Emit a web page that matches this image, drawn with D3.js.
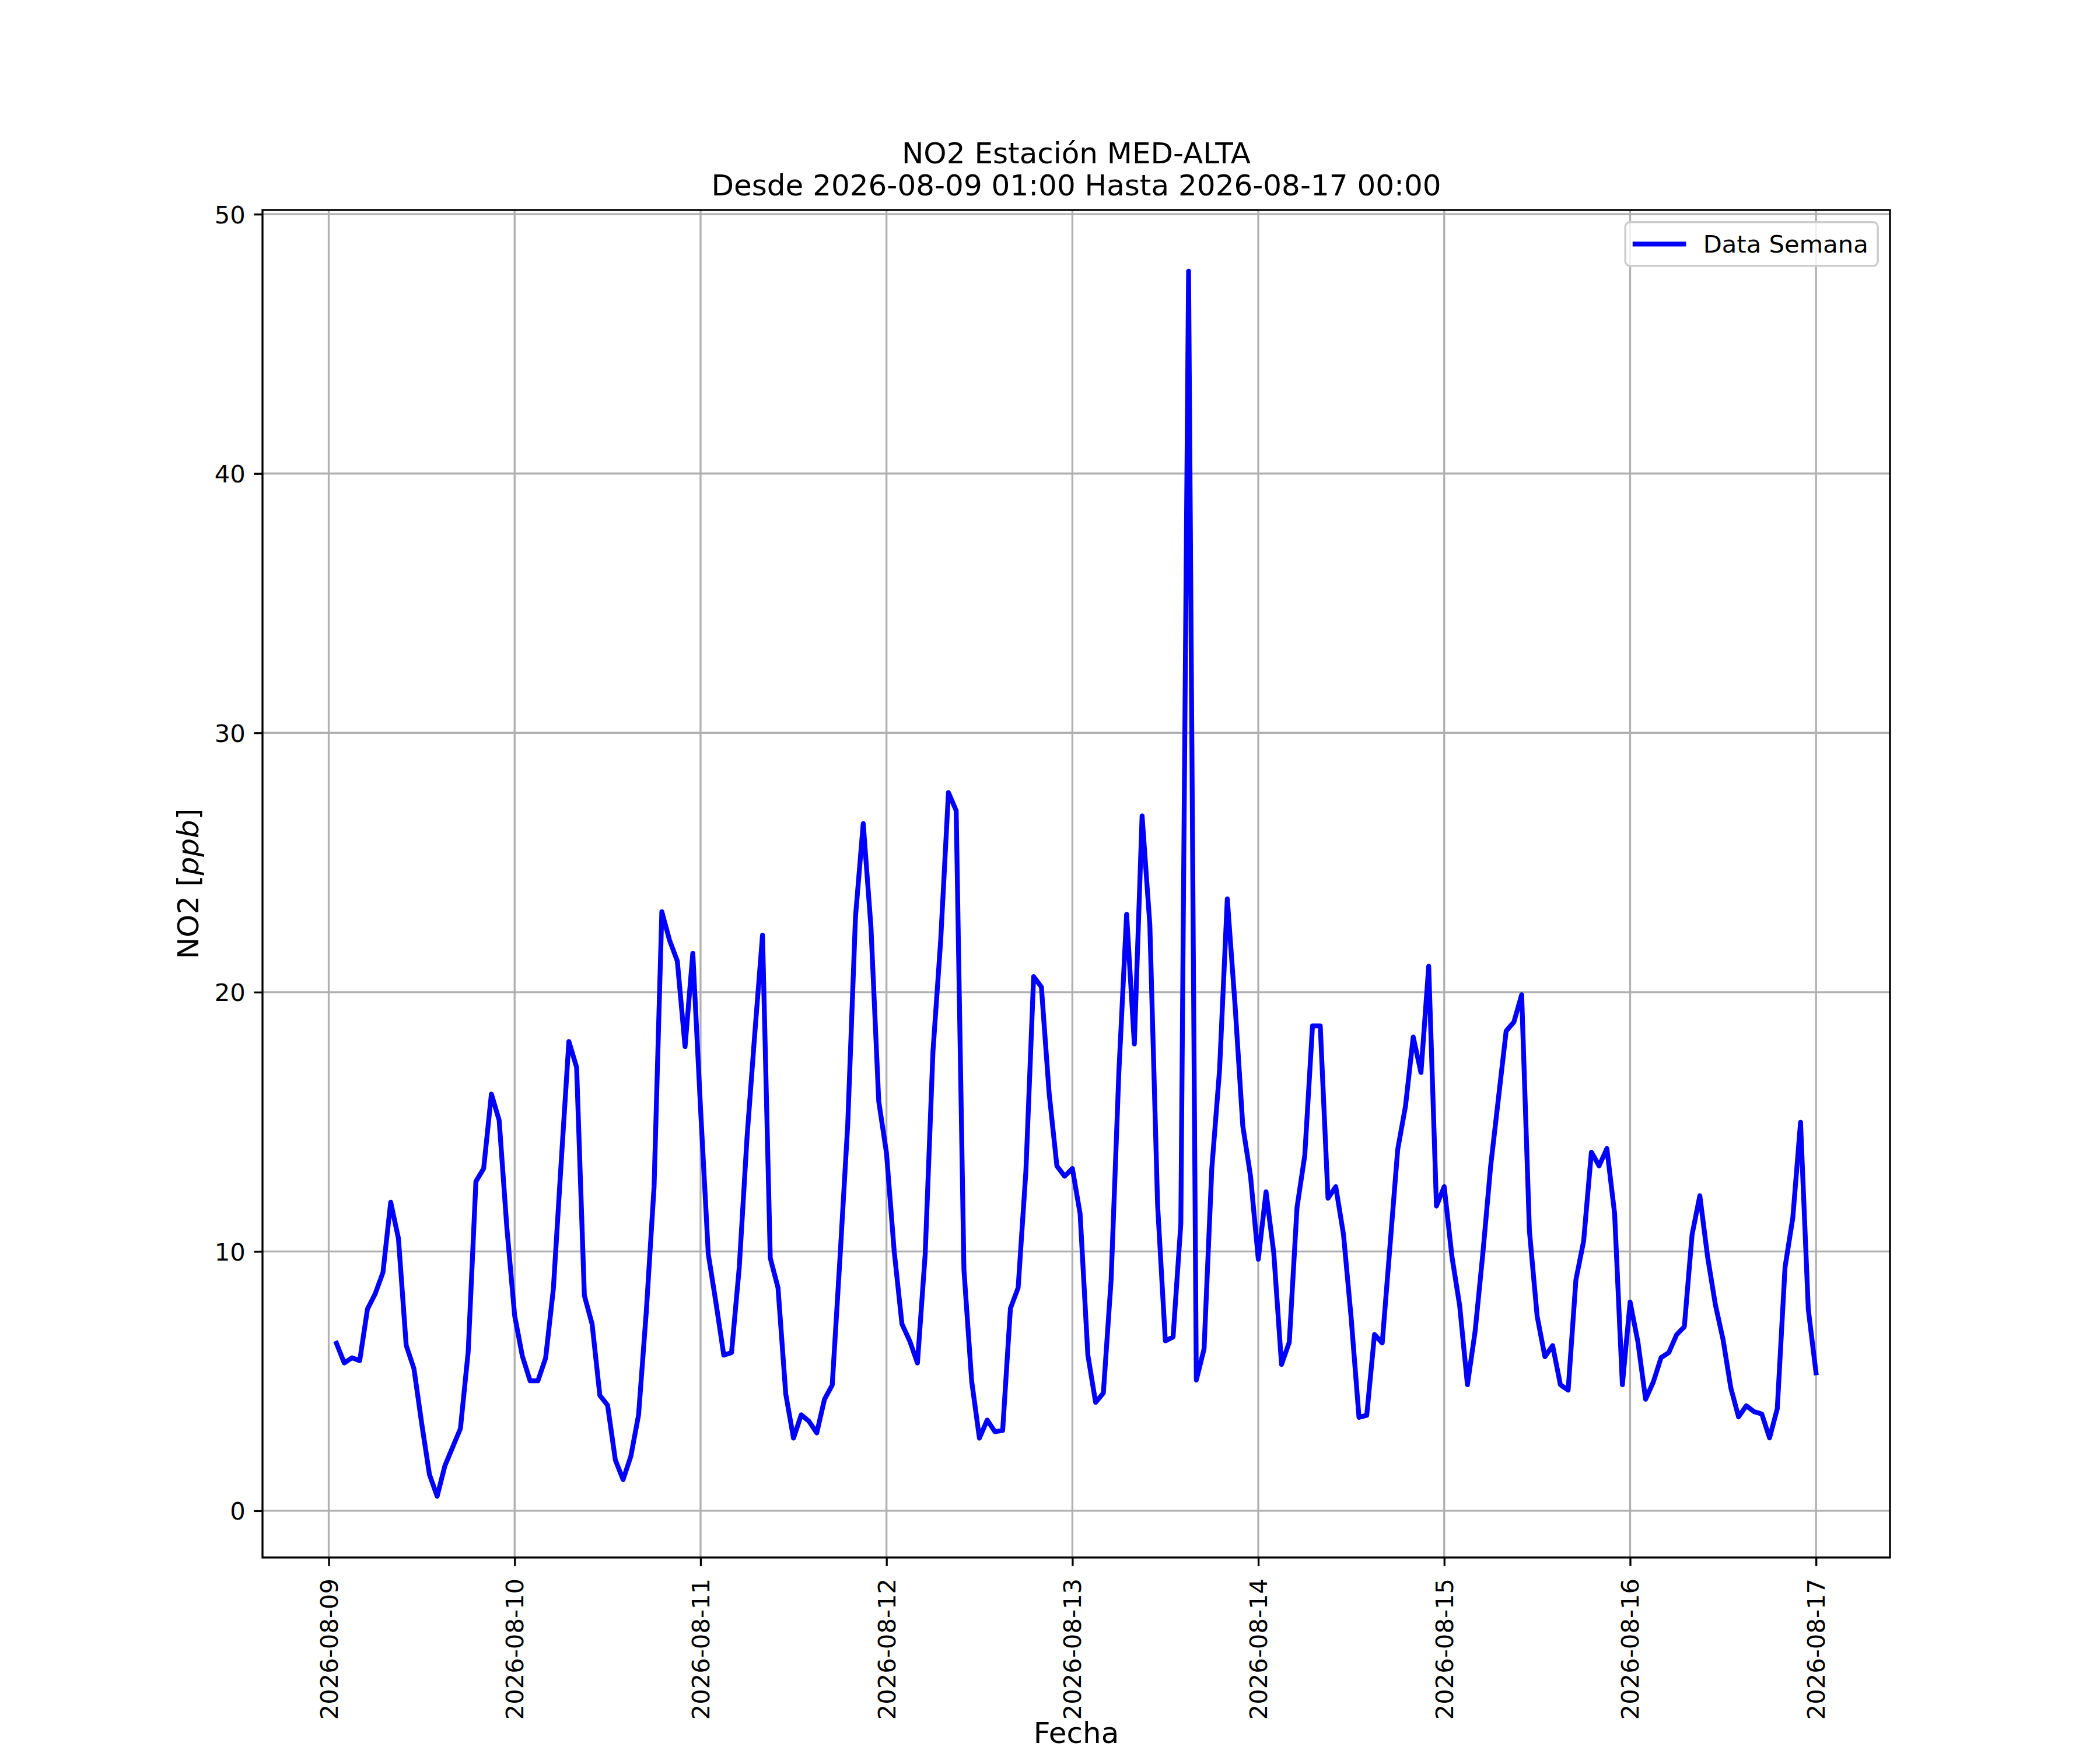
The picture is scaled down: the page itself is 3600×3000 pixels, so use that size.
<!DOCTYPE html>
<html>
<head>
<meta charset="utf-8">
<script src="https://cdn.jsdelivr.net/npm/d3@7"></script>
<style>
	html, body { margin: 0; padding: 0; background: #fff; }
	svg { display: block; font-family: 'DejaVu Sans', sans-serif; }
</style>
</head>
<body>
<div id="chart"></div>
<script>
// hourly NO2 readings, first one is 2026-08-09 01:00
const startHour = '2026-08-09T01:00:00Z'
const no2 = [
	6.46, 5.7, 5.9, 5.79, 7.78, 8.37, 9.19, 11.9, 10.5, 6.38, 5.48, 3.37, 1.4, 0.56, 1.74, 2.45, 3.17, 6.12, 12.7, 13.2, 16.07, 15.06, 10.9, 7.53,
	5.96, 5.01, 5.01, 5.89, 8.56, 13.4, 18.1, 17.1, 8.3, 7.2, 4.45, 4.07, 1.96, 1.2, 2.1, 3.7, 7.7, 12.5, 23.1, 22.0, 21.2, 17.9, 21.5, 15.5,
	9.9, 8.0, 6.0, 6.1, 9.4, 14.4, 18.4, 22.2, 9.75, 8.6, 4.5, 2.8, 3.7, 3.45, 3.0, 4.3, 4.85, 9.75, 14.9, 22.9, 26.5, 22.5, 15.8, 13.8,
	10.0, 7.2, 6.55, 5.7, 9.9, 17.7, 22.0, 27.7, 27.0, 9.3, 5.0, 2.8, 3.5, 3.05, 3.1, 7.8, 8.6, 13.1, 20.6, 20.2, 16.1, 13.3, 12.9, 13.2,
	11.45, 6.0, 4.18, 4.54, 8.9, 16.9, 23.0, 18.0, 26.8, 22.6, 11.8, 6.55, 6.7, 11.07, 47.8, 5.04, 6.24, 13.2, 17.0, 23.6, 19.5, 14.84, 12.9, 9.7,
	12.3, 9.94, 5.64, 6.5, 11.7, 13.7, 18.7, 18.7, 12.05, 12.5, 10.65, 7.4, 3.6, 3.68, 6.8, 6.47, 10.2, 13.94, 15.6, 18.27, 16.9, 21.0, 11.75, 12.5,
	9.8, 7.9, 4.86, 6.94, 9.96, 13.3, 15.9, 18.5, 18.85, 19.9, 10.8, 7.5, 5.94, 6.37, 4.86, 4.65, 8.9, 10.4, 13.83, 13.3, 13.97, 11.46, 4.86, 8.05,
	6.52, 4.3, 4.97, 5.91, 6.1, 6.79, 7.1, 10.65, 12.15, 9.8, 7.96, 6.6, 4.74, 3.62, 4.05, 3.82, 3.73, 2.81, 3.94, 9.39, 11.29, 14.98, 7.78, 5.32
]
const yTicks = [0, 10, 20, 30, 40, 50]
const titleLines = ['NO2 Estación MED-ALTA', 'Desde 2026-08-09 01:00 Hasta 2026-08-17 00:00']
const seriesName = 'Data Semana'

const attrs = {
	width: 3600,
	height: 3000,
	margin: { top: 360, right: 360, bottom: 330, left: 450 },
	lineColor: '#0000ff',
	lineWidth: 8.3,
	gridColor: '#b0b0b0',
	fontFamily: "'DejaVu Sans', sans-serif",
	tickFont: 41.7,
	labelFont: 50,
}

const t0 = new Date(startHour)
const data = no2.map((v, i) => ({ date: d3.utcHour.offset(t0, i), value: v }))

const chartWidth = attrs.width - attrs.margin.left - attrs.margin.right
const chartHeight = attrs.height - attrs.margin.top - attrs.margin.bottom

// matplotlib style 5% autoscale margins
const [xMin, xMax] = d3.extent(data, d => +d.date)
const xPad = (xMax - xMin) * 0.05
const [yMin, yMax] = d3.extent(data, d => d.value)
const yPad = (yMax - yMin) * 0.05

const x = d3.scaleUtc()
	.domain([new Date(xMin - xPad), new Date(xMax + xPad)])
	.range([0, chartWidth])

const y = d3.scaleLinear()
	.domain([yMin - yPad, yMax + yPad])
	.range([chartHeight, 0])

const dayTicks = x.ticks(d3.utcDay.every(1))

const svg = d3.select('#chart')
	.append('svg')
	.attr('width', attrs.width)
	.attr('height', attrs.height)

svg.append('rect')
	.attr('width', attrs.width)
	.attr('height', attrs.height)
	.attr('fill', '#fff')

const chart = svg.append('g')
	.attr('transform', `translate(${attrs.margin.left},${attrs.margin.top})`)

// grid
chart.append('g')
	.selectAll('line.vgrid')
	.data(dayTicks)
	.join('line')
	.attr('class', 'vgrid')
	.attr('x1', d => x(d))
	.attr('x2', d => x(d))
	.attr('y1', 0)
	.attr('y2', chartHeight)
	.attr('stroke', attrs.gridColor)
	.attr('stroke-width', 3.33)

chart.append('g')
	.selectAll('line.hgrid')
	.data(yTicks)
	.join('line')
	.attr('class', 'hgrid')
	.attr('x1', 0)
	.attr('x2', chartWidth)
	.attr('y1', d => y(d))
	.attr('y2', d => y(d))
	.attr('stroke', attrs.gridColor)
	.attr('stroke-width', 3.33)

// series
const line = d3.line()
	.x(d => x(d.date))
	.y(d => y(d.value))

chart.append('path')
	.datum(data)
	.attr('d', line)
	.attr('fill', 'none')
	.attr('stroke', attrs.lineColor)
	.attr('stroke-width', attrs.lineWidth)
	.attr('stroke-linejoin', 'round')
	.attr('stroke-linecap', 'square')

// axes
const xAxis = d3.axisBottom(x)
	.tickValues(dayTicks)
	.tickFormat(d3.utcFormat('%Y-%m-%d'))
	.tickSize(14.6)
	.tickPadding(14.6)
	.tickSizeOuter(0)

const yAxis = d3.axisLeft(y)
	.tickValues(yTicks)
	.tickFormat(d3.format('d'))
	.tickSize(14.6)
	.tickPadding(14.6)
	.tickSizeOuter(0)

const gx = chart.append('g')
	.attr('transform', `translate(0,${chartHeight})`)
	.call(xAxis)
	.attr('font-family', attrs.fontFamily)
	.attr('font-size', attrs.tickFont)

gx.select('.domain').remove()
gx.selectAll('.tick line').attr('stroke', '#000').attr('stroke-width', 3.33)
gx.selectAll('.tick text')
	.attr('fill', '#000')
	.attr('text-anchor', 'end')
	.attr('dy', null)
	.attr('y', null)
	.attr('dominant-baseline', 'central')
	.attr('transform', 'translate(0,36) rotate(-90)')

const gy = chart.append('g')
	.call(yAxis)
	.attr('font-family', attrs.fontFamily)
	.attr('font-size', attrs.tickFont)

gy.select('.domain').remove()
gy.selectAll('.tick line').attr('stroke', '#000').attr('stroke-width', 3.33)
gy.selectAll('.tick text')
	.attr('fill', '#000')
	.attr('dy', '0.36em')

// spines
chart.append('rect')
	.attr('width', chartWidth)
	.attr('height', chartHeight)
	.attr('fill', 'none')
	.attr('stroke', '#000')
	.attr('stroke-width', 3.33)

// title
svg.append('text')
	.attr('x', attrs.margin.left + chartWidth / 2)
	.attr('y', 280)
	.attr('text-anchor', 'middle')
	.attr('font-size', attrs.labelFont)
	.selectAll('tspan')
	.data(titleLines)
	.join('tspan')
	.attr('x', attrs.margin.left + chartWidth / 2)
	.attr('dy', (d, i) => i === 0 ? 0 : 55)
	.text(d => d)

// axis labels
svg.append('text')
	.attr('x', attrs.margin.left + chartWidth / 2)
	.attr('y', 2988)
	.attr('text-anchor', 'middle')
	.attr('font-size', attrs.labelFont)
	.text('Fecha')

const yLabel = svg.append('text')
	.attr('transform', `translate(340,${attrs.margin.top + chartHeight / 2}) rotate(-90)`)
	.attr('text-anchor', 'middle')
	.attr('font-size', attrs.labelFont)

yLabel.append('tspan').text('NO2 [')
yLabel.append('tspan').attr('font-style', 'italic').text('ppb')
yLabel.append('tspan').text(']')

// legend
const legendW = 433
const legendH = 75
const legend = chart.append('g')
	.attr('transform', `translate(${chartWidth - 20.8 - legendW},20.8)`)

legend.append('rect')
	.attr('width', legendW)
	.attr('height', legendH)
	.attr('rx', 8.3)
	.attr('fill', '#fff')
	.attr('fill-opacity', 0.8)
	.attr('stroke', '#cccccc')
	.attr('stroke-width', 3.5)

legend.append('line')
	.attr('x1', 16.7)
	.attr('x2', 16.7 + 83.4)
	.attr('y1', legendH / 2)
	.attr('y2', legendH / 2)
	.attr('stroke', attrs.lineColor)
	.attr('stroke-width', attrs.lineWidth)
	.attr('stroke-linecap', 'square')

legend.append('text')
	.attr('x', 16.7 + 83.4 + 33.4)
	.attr('y', legendH / 2)
	.attr('dy', '0.36em')
	.attr('font-size', attrs.tickFont)
	.text(seriesName)
</script>
</body>
</html>
